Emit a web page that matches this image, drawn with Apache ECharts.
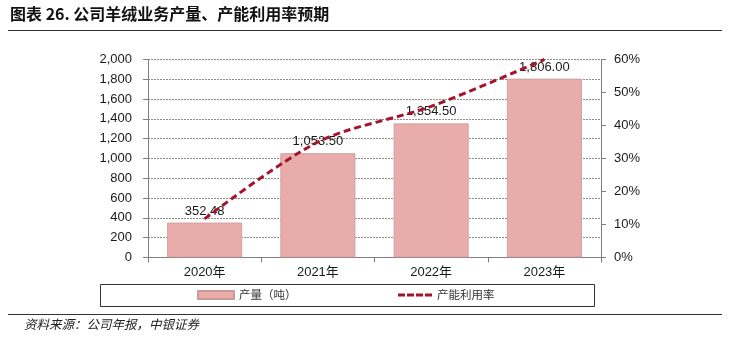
<!DOCTYPE html>
<html>
<head>
<meta charset="utf-8">
<script src="https://cdn.jsdelivr.net/npm/echarts@6/dist/echarts.min.js"></script>
<style>
  html, body { margin: 0; padding: 0; background: #fff; }
  #chart { width: 730px; height: 339px; }
</style>
</head>
<body>
<div id="chart"></div>
<script>
// Cashmere business: output (tonnes) and capacity utilisation, 2020-2023
const categories = ['2020年', '2021年', '2022年', '2023年'];
const outputTons = [352.48, 1053.50, 1354.50, 1806.00];
const utilisation = [0.117, 0.35, 0.458, 0.60];
const leftTicks = [0, 200, 400, 600, 800, 1000, 1200, 1400, 1600, 1800, 2000];
const rightTicks = [0, 0.1, 0.2, 0.3, 0.4, 0.5, 0.6];

const latin = '"Liberation Sans", Arial, sans-serif';
const cjk = '"Noto Sans CJK SC", sans-serif';
const fmt = v => v.toLocaleString('en-US', { minimumFractionDigits: 2, maximumFractionDigits: 2 });
const lineColor = '#a3142d';

const chart = echarts.init(document.getElementById('chart'), null, { renderer: 'canvas' });

chart.setOption({
  backgroundColor: '#ffffff',
  animation: false,
  textStyle: { fontFamily: latin },
  grid: { left: 148, right: 129, top: 59.5, bottom: 81.5 },
  xAxis: {
    type: 'category',
    data: categories,
    axisLine: { lineStyle: { color: '#7f7f7f', width: 1 } },
    axisTick: { show: true, length: 5, lineStyle: { color: '#7f7f7f' } },
    axisLabel: { color: '#1a1a1a', fontSize: 13, margin: 8, fontFamily: latin + ', ' + cjk }
  },
  yAxis: [
    {
      type: 'value',
      min: leftTicks[0],
      max: leftTicks[leftTicks.length - 1],
      interval: 200,
      axisLine: { show: true, lineStyle: { color: '#7f7f7f' } },
      axisTick: { show: true, inside: false, length: 5, lineStyle: { color: '#7f7f7f' } },
      axisLabel: {
        color: '#1a1a1a', fontSize: 13, margin: 16,
        formatter: v => v.toLocaleString('en-US')
      },
      splitLine: { show: true, lineStyle: { color: '#8c8c8c', type: [2, 1], width: 1 } }
    },
    {
      type: 'value',
      min: rightTicks[0],
      max: rightTicks[rightTicks.length - 1],
      interval: 0.1,
      position: 'right',
      axisLine: { show: true, lineStyle: { color: '#7f7f7f' } },
      axisTick: { show: true, length: 5, lineStyle: { color: '#7f7f7f' } },
      axisLabel: {
        color: '#1a1a1a', fontSize: 13, margin: 13,
        formatter: v => Math.round(v * 100) + '%'
      },
      splitLine: { show: false }
    }
  ],
  legend: [
    {
      left: 197,
      top: 288,
      padding: 0,
      itemWidth: 36,
      itemHeight: 8,
      textStyle: { fontFamily: cjk, fontSize: 11.5, color: '#333', lineHeight: 14 },
      data: [{ name: '产量（吨）', icon: 'rect' }]
    },
    {
      left: 398,
      top: 288,
      padding: 0,
      itemWidth: 34,
      itemHeight: 13,
      textStyle: { fontFamily: cjk, fontSize: 11.5, color: '#333', lineHeight: 14 },
      data: [{
        name: '产能利用率',
        icon: 'path://M0,5h7v3h-7z M9,5h7v3h-7z M18,5h7v3h-7z M27,5h7v3h-7z M0,0h0.01v0.01h-0.01z M33.99,12.99h0.01v0.01h-0.01z',
        itemStyle: { color: lineColor }
      }]
    }
  ],
  series: [
    {
      name: '产量（吨）',
      type: 'bar',
      data: outputTons,
      yAxisIndex: 0,
      barWidth: 75,
      itemStyle: { color: '#e8adab', borderColor: '#c99c9a', borderWidth: 0.8 },
      label: {
        show: true, position: 'top', distance: 5,
        color: '#1a1a1a', fontSize: 13, fontFamily: latin,
        formatter: p => fmt(p.value)
      },
      z: 2
    },
    {
      name: '产能利用率',
      type: 'line',
      data: utilisation,
      yAxisIndex: 1,
      smooth: 0.3,
      symbol: 'none',
      lineStyle: { color: lineColor, width: 3, type: [7, 4] },
      itemStyle: { color: lineColor },
      z: 3
    }
  ],
  graphic: [
    {
      type: 'text', left: 10, top: 6,
      style: {
        text: '图表 26. 公司羊绒业务产量、产能利用率预期',
        fontFamily: cjk, fontWeight: 'bold', fontSize: 16, fill: '#111'
      }
    },
    { type: 'line', shape: { x1: 8, y1: 30.5, x2: 722, y2: 30.5 }, style: { stroke: '#333', lineWidth: 1.2 } },
    { type: 'rect', shape: { x: 100.5, y: 284.5, width: 494, height: 22 }, style: { fill: 'none', stroke: '#333', lineWidth: 1 } },
    { type: 'line', shape: { x1: 8, y1: 314.5, x2: 722, y2: 314.5 }, style: { stroke: '#333', lineWidth: 1 } },
    {
      type: 'text', left: 24, top: 318,
      style: {
        text: '资料来源：公司年报，中银证券',
        fontFamily: cjk, fontStyle: 'italic', fontSize: 12.5, fill: '#222'
      }
    }
  ]
});
</script>
</body>
</html>
